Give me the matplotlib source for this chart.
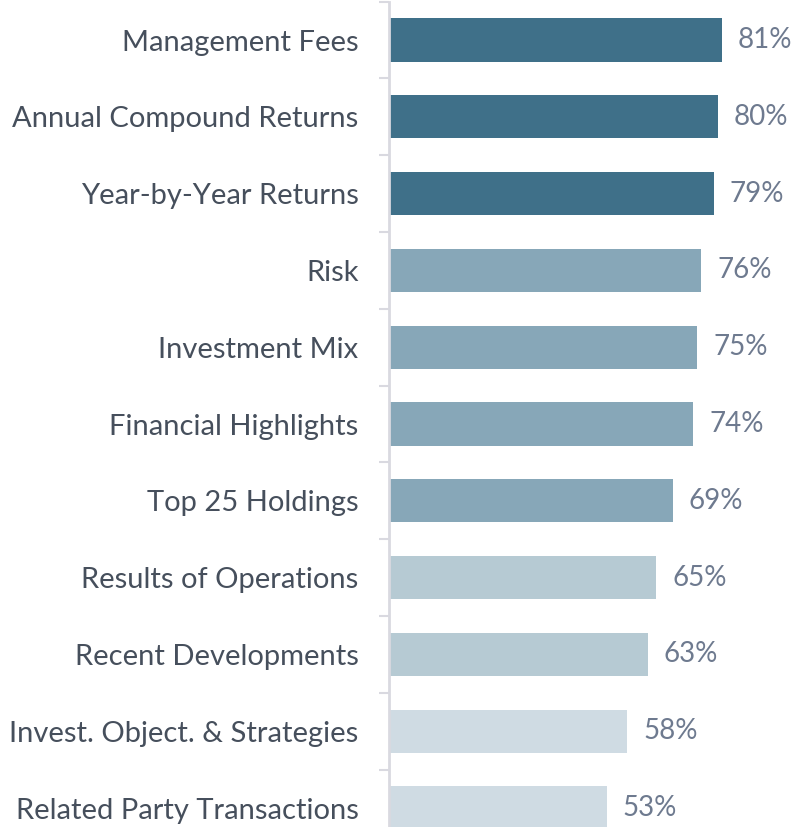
import numpy as np
import matplotlib
matplotlib.use("Agg")
import matplotlib.pyplot as plt

# data (top to bottom)
categories = ["Management Fees", "Annual Compound Returns", "Year-by-Year Returns",
              "Risk", "Investment Mix", "Financial Highlights", "Top 25 Holdings",
              "Results of Operations", "Recent Developments",
              "Invest. Object. & Strategies", "Related Party Transactions"]
values = [81, 80, 79, 76, 75, 74, 69, 65, 63, 58, 53]
shade = [0, 0, 0, 1, 1, 1, 1, 2, 2, 3, 3]

palette = ["#3F7089", "#87A7B8", "#B6CAD3", "#CFDBE3"]

plt.rcParams['font.family'] = ['Lato', 'DejaVu Sans']

W, H = 796, 827
fig = plt.figure(figsize=(W / 100, H / 100), dpi=100)
# axes: left edge at x=389 px, slots of ~76.8 px starting near top
left = 389 / W
top = 1 - 1.6 / H
bottom = 1 - 846.4 / H
ax = fig.add_axes([left, bottom, 1 - left, top - bottom])

y = np.arange(len(categories))
cols = [palette[s] for s in shade]
ax.barh(y, values, height=0.56, color=cols)

ax.set_ylim(len(categories) - 0.5, -0.5)
ax.set_xlim(0, (W - 389) / 4.11)

ax.set_yticks(y)
ax.set_yticklabels(categories, fontsize=21, color="#464F5C")
ax.set_yticks(np.arange(len(categories) + 1) - 0.5, minor=True)
ax.tick_params(axis="y", which="major", length=0, pad=22)
ax.tick_params(axis="y", which="minor", length=7, width=1.5, color="#D9D9E0")
ax.set_xticks([])

for s in ["top", "right", "bottom"]:
    ax.spines[s].set_visible(False)
ax.spines["left"].set_color("#D9D9E0")
ax.spines["left"].set_linewidth(2)

for yi, v in zip(y, values):
    ax.text(v + 3.9, yi, f"{v}%", va="center", ha="left", fontsize=20, color="#6E7A8F")

fig.savefig("out.png", dpi=100)
